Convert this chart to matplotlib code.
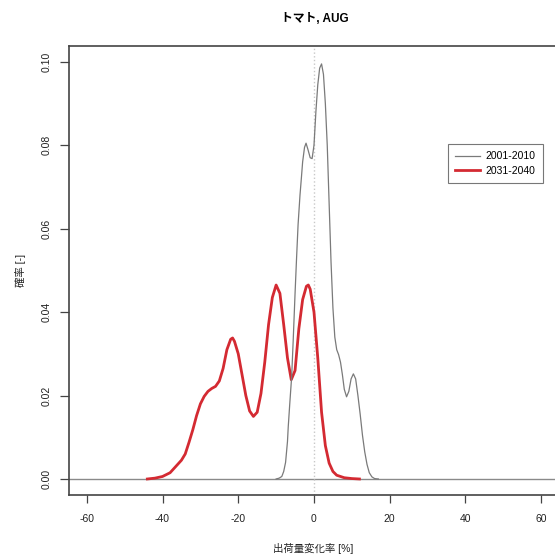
import matplotlib
matplotlib.use("Agg")
import matplotlib.pyplot as plt

plt.rcParams['font.family'] = ['Liberation Sans', 'Noto Sans CJK JP', 'DejaVu Sans']

# density curve 2001-2010
x_past = [-10.0, -9.2, -8.5, -8.0, -7.5, -7.0, -6.8, -6.4, -5.9, -5.5, -5.0, -4.6,
          -4.2, -3.7, -3.3, -3.0, -2.5, -2.1, -1.6, -1.0, -0.5, 0.0, 0.5, 1.0,
          1.5, 2.0, 2.5, 3.0, 3.5, 4.0, 4.5, 5.0, 5.5, 6.0, 6.5, 7.0, 7.5, 8.0,
          8.6, 9.2, 9.8, 10.4, 11.0, 11.6, 12.2, 12.8, 13.4, 14.0, 14.6, 15.3, 16.0, 17.0]
y_past = [0.0, 0.0002, 0.0006, 0.0018, 0.004, 0.009, 0.0125, 0.018, 0.0245, 0.033, 0.0445, 0.053,
          0.061, 0.068, 0.0725, 0.076, 0.0795, 0.0805, 0.079, 0.077, 0.0768, 0.080, 0.088, 0.0945,
          0.0985, 0.0995, 0.097, 0.090, 0.080, 0.066, 0.052, 0.041, 0.034, 0.031, 0.0298, 0.028, 0.025, 0.0215,
          0.0197, 0.021, 0.024, 0.0252, 0.024, 0.020, 0.0155, 0.0105, 0.0065, 0.0035, 0.0015, 0.0005, 0.0001, 0.0]

# density curve 2031-2040
x_future = [-44.0, -42.0, -40.0, -38.0, -36.5, -35.0, -34.0, -33.0, -32.0, -31.0, -30.0, -29.0,
            -28.0, -27.0, -26.0, -25.0, -24.0, -23.0, -22.0, -21.5, -21.0, -20.0, -19.0, -18.0,
            -17.0, -16.0, -15.0, -14.0, -13.0, -12.0, -11.0, -10.0, -9.0, -8.0, -7.0, -6.0,
            -5.0, -4.0, -3.0, -2.0, -1.5, -1.0, 0.0, 1.0, 2.0, 3.0, 4.0, 5.0, 6.0, 8.0, 10.0, 12.0]
y_future = [0.0, 0.0002, 0.0006, 0.0015, 0.003, 0.0045, 0.006, 0.0088, 0.0118, 0.0152, 0.018, 0.0198,
            0.021, 0.0217, 0.0222, 0.0235, 0.0265, 0.031, 0.0335, 0.0338, 0.033, 0.030, 0.025, 0.020,
            0.0163, 0.015, 0.016, 0.0205, 0.028, 0.037, 0.0435, 0.0465, 0.0445, 0.037, 0.029, 0.0238,
            0.026, 0.036, 0.043, 0.0462, 0.0465, 0.0455, 0.040, 0.029, 0.016, 0.008, 0.0038, 0.0018, 0.0009, 0.0003, 0.0001, 0.0]

labels = ['2001-2010', '2031-2040']
x_ticks = [-60, -40, -20, 0, 20, 40, 60]
y_ticks = [0.00, 0.02, 0.04, 0.06, 0.08, 0.10]

fig = plt.figure(figsize=(5.55, 5.58), dpi=100)
ax = fig.add_axes([0.1243, 0.1129, 0.8829, 0.8047])

ax.axhline(0, color='#8a8a8a', lw=1.0, zorder=1)
ax.axvline(0, color='#c8c8c8', lw=1.0, ls=':', zorder=1)
ax.plot(x_past, y_past, color='#7a7a7a', lw=0.9, label=labels[0], zorder=3)
ax.plot(x_future, y_future, color='#d42a32', lw=2.0, label=labels[1], zorder=2)

ax.set_xlim(-64.7, 64.7)
ax.set_ylim(-0.00384, 0.1038)
ax.set_xticks(x_ticks)
ax.set_xticklabels([str(v) for v in x_ticks])
ax.set_yticks(y_ticks)
ax.set_yticklabels(['%.2f' % v for v in y_ticks])

for s in ['left', 'bottom', 'top', 'right']:
    ax.spines[s].set_color('#444444')
    ax.spines[s].set_linewidth(1.2)

ax.tick_params(axis='x', length=6, width=0.9, color='#444444', pad=8, labelsize=7.5, labelcolor='#222222')
ax.tick_params(axis='y', length=6.5, width=0.9, color='#444444', pad=6, labelsize=7.5,
               labelcolor='#222222', labelrotation=90)
for lab in ax.get_yticklabels():
    lab.set_va('center')

fig.text(315 / 555, 1 - 19 / 558, 'トマト, AUG', ha='center', va='center', fontsize=8.5, fontweight='bold')
fig.text(313 / 555, 1 - 548 / 558, '出荷量変化率 [%]', ha='center', va='center', fontsize=7.5, color='#222222')
fig.text(20 / 555, 1 - 270 / 558, '確率 [-]', ha='center', va='center', rotation=90, fontsize=7.5, color='#222222')

leg = ax.legend(loc='upper left', bbox_to_anchor=(448 / 555, 1 - 144 / 558), bbox_transform=fig.transFigure,
                fontsize=7.5, frameon=True, fancybox=False, edgecolor='#555555', handlelength=2.4,
                handletextpad=0.5, labelspacing=0.45, borderpad=0.7, borderaxespad=0)
leg.get_frame().set_linewidth(0.8)

fig.savefig('out.png', dpi=100)
